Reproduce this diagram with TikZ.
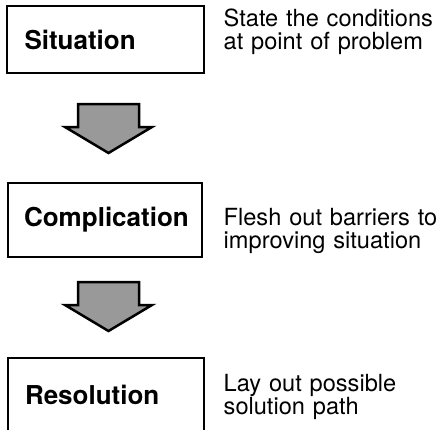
\documentclass[tikz,border=0pt]{standalone}
\usepackage{fontspec}
\setmainfont{TeX Gyre Heros}
\usetikzlibrary{calc}
\def\flowarrow(#1){\draw[arrowbody] ($(#1)+(-30.5,0)$) -- ++(61,0) -- ++(0,23) -- ++(13,0) -- ++(-43.5,26) -- ++(-43.5,-26) -- ++(13,0) -- cycle;}

\begin{document}
\begin{tikzpicture}[x=1pt, y=-1pt,
		stage/.style={draw, line width=2.5pt, text width=162pt, align=left, inner xsep=16pt, font=\bfseries\fontsize{26}{30}\selectfont},
		note/.style={anchor=base west, inner sep=0pt, text width=240pt, align=left, font=\fontsize{23.6}{23.5}\selectfont},
		arrowbody/.style={draw, line width=2.5pt, fill=black!40, line join=miter}]
			%%%%% START %%%%%
			\useasboundingbox (0, 0) rectangle (439, 429);
			
			\node[stage, minimum width=197pt, minimum height=67pt] (situation) at (105.5, 39.5) {Situation};
			\node[note] (situationnote) at (223.5, 26) {State the conditions\\at point of problem};
			
			\coordinate (arrowone) at (108.5, 104);
			\flowarrow(arrowone)
			
			\node[stage, minimum width=194pt, minimum height=74pt] (complication) at (105, 220) {Complication};
			\node[note] (complicationnote) at (223.5, 225) {Flesh out barriers to\\improving situation};
			
			\coordinate (arrowtwo) at (108.5, 282);
			\flowarrow(arrowtwo)
			
			\node[stage, minimum width=196pt, minimum height=74pt] (resolution) at (106, 395) {Resolution};
			\node[note] (resolutionnote) at (223.5, 391) {Lay out possible\\solution path};
			
			%%%%% END %%%%%
		\end{tikzpicture}
\end{document}
